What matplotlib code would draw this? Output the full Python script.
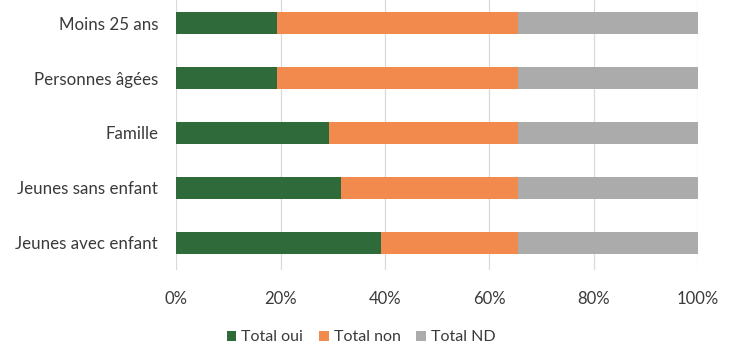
import matplotlib
matplotlib.use("Agg")
import matplotlib.pyplot as plt
from matplotlib.ticker import PercentFormatter

categories = ["Moins 25 ans", "Personnes âgées", "Famille",
              "Jeunes sans enfant", "Jeunes avec enfant"]
total_oui = [19.3, 19.3, 29.2, 31.6, 39.2]
total_non = [46.2, 46.3, 36.4, 34.0, 26.4]
total_nd = [34.5, 34.4, 34.4, 34.4, 34.4]
series_names = ["Total oui", "Total non", "Total ND"]
xticks = [0, 20, 40, 60, 80, 100]

colors = ["#2f6a3a", "#f28a4e", "#ababab"]

plt.rcParams["font.family"] = ["Lato", "DejaVu Sans"]

fig = plt.figure(figsize=(7.37, 3.47), dpi=100)
ax = fig.add_axes([0.239, 0.222, 0.708, 0.79])

ypos = list(range(len(categories)))
left = [0.0] * len(categories)
for name, vals, col in zip(series_names, [total_oui, total_non, total_nd], colors):
    ax.barh(ypos, vals, left=left, height=0.4, color=col, label=name, zorder=3)
    left = [l + v for l, v in zip(left, vals)]

ax.set_ylim(len(categories) - 0.5, -0.5)
ax.set_yticks(ypos)
ax.set_yticklabels(categories, fontsize=12.2, color="#3a3a3a")
ax.set_xlim(0, 100)
ax.set_xticks(xticks)
ax.xaxis.set_major_formatter(PercentFormatter(decimals=0))
ax.tick_params(axis="x", labelsize=12, labelcolor="#3a3a3a", length=0, pad=15)
ax.tick_params(axis="y", length=0, pad=13)
ax.grid(axis="x", color="#d9d9d9", linewidth=0.9, zorder=0)
for s in ax.spines.values():
    s.set_visible(False)

fig.legend(loc="center", bbox_to_anchor=(0.49, 0.028), ncol=3, frameon=False,
           fontsize=11.5, handlelength=0.6, handleheight=0.6, handletextpad=0.3,
           columnspacing=1.0, labelcolor="#3a3a3a")

fig.savefig("out.png", dpi=100)
